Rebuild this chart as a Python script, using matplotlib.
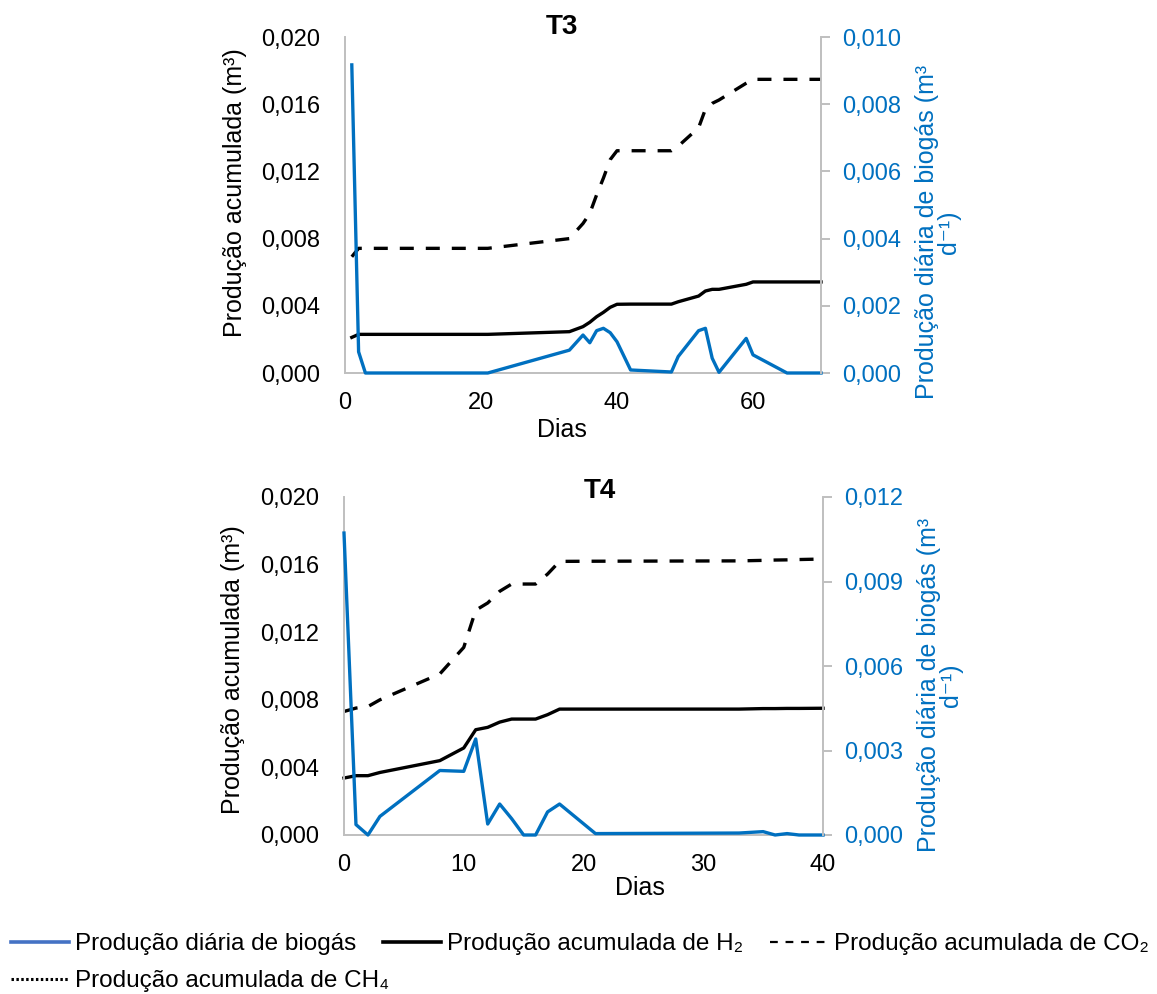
import numpy as np
import matplotlib
matplotlib.use("Agg")
import matplotlib.pyplot as plt
from matplotlib.lines import Line2D
from matplotlib.ticker import FuncFormatter

plt.rcParams['font.family'] = ['Liberation Sans', 'DejaVu Sans']

BLUE = '#0070C0'
GREY = '#BFBFBF'

# T3 series
t3_days = [1, 2, 3, 21, 33, 35, 36, 37, 38, 39, 40, 42, 48, 49, 52, 53, 54, 55, 59, 60, 65, 70]
t3_biogas = [0.00917, 0.00063, 0.0, 0.0, 0.00068, 0.00113, 0.00090, 0.00126, 0.00133, 0.00120,
             0.00093, 0.00009, 0.00003, 0.00049, 0.00126, 0.00133, 0.00044, 0.00002, 0.00103,
             0.00054, 0.0, 0.0]
t3_h2 = [0.00212, 0.00230, 0.00230, 0.00230, 0.00246, 0.00276, 0.00302, 0.00335, 0.00361, 0.00391,
         0.00409, 0.00410, 0.00410, 0.00424, 0.00458, 0.00488, 0.00498, 0.00498, 0.00528,
         0.00542, 0.00542, 0.00542]
t3_co2 = [0.00692, 0.00742, 0.00742, 0.00742, 0.00800, 0.00890, 0.00950, 0.01060, 0.01160, 0.01270,
          0.01323, 0.01323, 0.01323, 0.01350, 0.01460, 0.01570, 0.01605, 0.01625, 0.01725,
          0.01748, 0.01748, 0.01748]

# T4 series
t4_days = [0, 1, 2, 3, 8, 10, 11, 12, 13, 14, 15, 16, 17, 18, 21, 33, 35, 36, 37, 38, 40]
t4_biogas = [0.01072, 0.00037, 0.0, 0.00066, 0.00229, 0.00226, 0.00341, 0.00039, 0.00110, 0.00058,
             0.0, 0.0, 0.00082, 0.00110, 0.00005, 0.00007, 0.00012, 0.0, 0.00005, 0.0, 0.0]
t4_h2 = [0.00337, 0.00351, 0.00351, 0.00370, 0.00440, 0.00515, 0.00623, 0.00637, 0.00668, 0.00686,
         0.00686, 0.00686, 0.00712, 0.00745, 0.00745, 0.00745, 0.00748, 0.00748, 0.00749, 0.00749,
         0.00750]
t4_co2 = [0.00731, 0.00751, 0.00760, 0.00800, 0.00953, 0.01110, 0.01330, 0.01373, 0.01442, 0.01485,
          0.01485, 0.01485, 0.01544, 0.01619, 0.01620, 0.01622, 0.01625, 0.01627, 0.01628, 0.01630,
          0.01633]

left_ticks = [0.0, 0.004, 0.008, 0.012, 0.016, 0.020]
t3_right_ticks = [0.0, 0.002, 0.004, 0.006, 0.008, 0.010]
t4_right_ticks = [0.0, 0.003, 0.006, 0.009, 0.012]
t3_xticks = [0, 20, 40, 60]
t4_xticks = [0, 10, 20, 30, 40]

comma = FuncFormatter(lambda v, pos: f"{v:.3f}".replace('.', ','))
TICK_FS = 17
LABEL_FS = 18
LEG_FS = 17.5
LW = 2.4


def draw_panel(fig, rect, title, title_xy, days, biogas, h2, co2, xmax, xticks, rticks,
               ylab_y, rlab_y, dias_xy):
    ax = fig.add_axes(rect)
    ax2 = ax.twinx()

    ax.plot(days, h2, color='black', lw=LW, clip_on=False)
    ax.plot(days, co2, color='black', lw=LW, dashes=(4.2, 3.6), clip_on=False)
    ax2.plot(days, biogas, color=BLUE, lw=LW, clip_on=False)

    ax.set_xlim(0, xmax)
    ax.set_xticks(xticks)
    ax.set_ylim(0, 0.020)
    ax.set_yticks(left_ticks)
    ax.yaxis.set_major_formatter(comma)
    ax2.set_ylim(0, rticks[-1])
    ax2.set_yticks(rticks)
    ax2.yaxis.set_major_formatter(comma)

    for a in (ax, ax2):
        a.spines['top'].set_visible(False)
        for s in ('left', 'right', 'bottom'):
            a.spines[s].set_color(GREY)
            a.spines[s].set_linewidth(1.4)
    ax.spines['right'].set_visible(False)
    ax2.spines['left'].set_visible(False)
    ax2.spines['bottom'].set_visible(False)

    ax.tick_params(axis='y', length=0, pad=18, labelsize=TICK_FS, colors='black')
    ax.tick_params(axis='x', length=0, pad=14, labelsize=TICK_FS, colors='black')
    ax2.tick_params(axis='y', length=6.5, width=1.4, color=GREY, pad=9,
                    labelsize=TICK_FS, labelcolor=BLUE)

    ax.text(title_xy[0], title_xy[1], title, transform=ax.transAxes, ha='center', va='center',
            fontsize=20, fontweight='bold')
    ax.text(-0.231, ylab_y, 'Produção acumulada (m³)', transform=ax.transAxes, rotation=90,
            ha='center', va='center', fontsize=LABEL_FS)
    ax.text(1.245, rlab_y, 'Produção diária de biogás (m³\nd⁻¹)', transform=ax.transAxes,
            rotation=90, ha='center', va='center', fontsize=LABEL_FS, color=BLUE,
            multialignment='center', linespacing=0.9)
    ax.text(dias_xy[0], dias_xy[1], 'Dias', transform=ax.transAxes, ha='center', va='center',
            fontsize=LABEL_FS)
    return ax, ax2


W, H = 1157, 994
fig = plt.figure(figsize=(W / 100, H / 100), dpi=100)

draw_panel(fig, [345 / W, 1 - 373 / H, 476 / W, 336 / H], 'T3', (0.456, 1.03),
           t3_days, t3_biogas, t3_h2, t3_co2, 70, t3_xticks, t3_right_ticks,
           0.536, 0.42, (0.456, -0.17))
draw_panel(fig, [344 / W, 1 - 835 / H, 479 / W, 338 / H], 'T4', (0.535, 1.017),
           t4_days, t4_biogas, t4_h2, t4_co2, 40, t4_xticks, t4_right_ticks,
           0.488, 0.444, (0.618, -0.157))

# legend, placed entry by entry like the original
legend_items = [
    (Line2D([], [], color='#4472C4', lw=2.6), 'Produção diária de biogás', 11, 944),
    (Line2D([], [], color='black', lw=2.6), 'Produção acumulada de H₂', 383, 944),
    (Line2D([], [], color='black', lw=1.6, dashes=(3.5, 3.5)), 'Produção acumulada de CO₂', 770, 944),
    (Line2D([], [], color='black', lw=2.2, dashes=(0.8, 0.8)), 'Produção acumulada de CH₄', 11, 981),
]
for handle, label, x, y in legend_items:
    fig.legend([handle], [label], loc='center left', bbox_to_anchor=(x / W, 1 - y / H),
               frameon=False, fontsize=LEG_FS, handlelength=2.4, handletextpad=0.25,
               borderpad=0, borderaxespad=0)

fig.savefig('out.png', dpi=100)
